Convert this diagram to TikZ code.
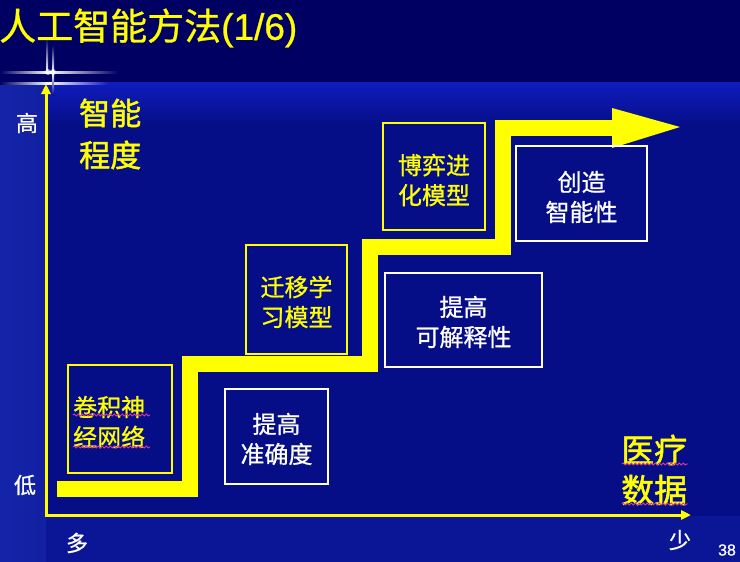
\documentclass[tikz,border=0pt]{standalone}
\usepackage{fontspec}
\setmainfont{Noto Sans CJK SC}[FakeBold=0.8]
\newfontfamily\cjkh{Noto Sans CJK SC}[FakeBold=1.6]
\newfontfamily\arialf{Liberation Sans}[FakeBold=0.8]
\usetikzlibrary{arrows.meta,decorations.pathmorphing}
\definecolor{ttlbg}{RGB}{0,0,98}
\definecolor{bodybg}{RGB}{5,14,135}
\definecolor{leftbg}{RGB}{20,36,168}
\definecolor{bandbg}{RGB}{16,28,190}
\definecolor{botbg}{RGB}{10,22,150}
\definecolor{yel}{RGB}{255,255,0}
\definecolor{squig}{RGB}{215,60,150}
\begin{document}
\begin{tikzpicture}[x=1pt,y=-1pt,
  ybox/.style={draw=yel,line width=2pt,inner sep=0pt},
  wbox/.style={draw=white,line width=2pt,inner sep=0pt},
  ytxt/.style={text=yel,font=\fontsize{24}{30}\selectfont,align=center,inner sep=0pt},
  wtxt/.style={text=white,font=\fontsize{24}{30}\selectfont,align=center,inner sep=0pt},
  ylab/.style={text=yel,align=left,inner sep=0pt,anchor=west},
  wlab/.style={text=white,font=\fontsize{22}{22}\selectfont,inner sep=0pt},
  axisline/.style={draw=yel,line width=3pt,{Triangle[length=10pt,width=9pt]}-{Triangle[length=10pt,width=9pt]}},
  stair/.style={draw=yel,line width=16pt,line join=miter},
  wavy/.style={draw=squig,line width=0.9pt,decorate,decoration={snake,amplitude=1pt,segment length=4pt}}
]
\useasboundingbox (0,0) rectangle (740,562);
% background
\fill[ttlbg] (0,0) rectangle (740,82);
\fill[bodybg] (0,82) rectangle (740,562);
\shade[top color=bandbg,bottom color=bodybg] (46,82) rectangle (740,125);
\shade[left color=leftbg,right color=leftbg!85!bodybg] (0,82) rectangle (46,562);
\fill[botbg] (46,516) rectangle (740,562);
% flare
\shade[left color=ttlbg,right color=white] (0,71) rectangle (49,73);
\shade[left color=white,right color=ttlbg] (49,71) rectangle (118,73);
\shade[left color=ttlbg,right color=white] (0,82) rectangle (49,84);
\shade[left color=white,right color=bandbg] (49,82) rectangle (108,84);
\shade[top color=ttlbg,bottom color=white] (46.5,38) rectangle (48,72);
\shade[top color=ttlbg,bottom color=white] (52.5,45) rectangle (54,72);
\shade[top color=white,bottom color=bodybg] (52.5,72) rectangle (54,95);
\fill[white,opacity=0.6] (48,72) circle (3);
\fill[white,opacity=0.6] (53,72) circle (3);
% title
\node[anchor=west,text=yel,inner sep=0pt] (title) at (-1,28)
  {\fontsize{37}{37}\selectfont 人工智能方法{\arialf(1/6)}};
% axes
\coordinate (ytop) at (46,84);
\coordinate (orig) at (46,515);
\coordinate (xend) at (691,515);
\draw[axisline,line join=miter] (ytop) -- (orig) -- (xend);
% staircase
\coordinate (s0) at (57,489);
\coordinate (s1) at (190,489);
\coordinate (s2) at (190,364);
\coordinate (s3) at (370,364);
\coordinate (s4) at (370,247);
\coordinate (s5) at (503,247);
\coordinate (s6) at (503,128);
\coordinate (s7) at (613,128);
\coordinate (h1) at (612,108);
\coordinate (h2) at (612,148);
\coordinate (tip) at (680,127);
\draw[stair] (s0) -- (s1) -- (s2) -- (s3) -- (s4) -- (s5) -- (s6) -- (s7);
\fill[yel] (h1) -- (tip) -- (h2) -- cycle;
% axis labels
\node[wlab] (hi) at (27,123) {高};
\node[wlab] (lo) at (25,485) {低};
\node[wlab] (many) at (77,543) {多};
\node[wlab] (few) at (680,540) {少};
\node[text=white,inner sep=0pt,font=\arialf\fontsize{16}{16}\selectfont] (pg) at (727,550) {38};
\node[ylab,font=\cjkh\fontsize{31}{42}\selectfont] (intel) at (79,134) {智能\\程度};
\node[ylab,font=\cjkh\fontsize{33}{40}\selectfont] (data) at (621,470) {医疗\\数据};
\draw[wavy] (622,464) -- (688,464);
\draw[wavy] (622,504) -- (688,504);
% boxes
\node[ybox,minimum width=104pt,minimum height=108pt] (cnnb) at (120,419) {};
\node[ytxt,align=left,anchor=west] (cnn) at (73,422) {卷积神\\经网络};
\draw[wavy] (73,415) -- (150,415);
\draw[wavy] (73,447) -- (150,447);
\node[wbox,minimum width=103pt,minimum height=95pt] (accb) at (276.5,436.5) {};
\node[wtxt] (acc) at (276.5,439) {提高\\准确度};
\node[ybox,minimum width=101pt,minimum height=109pt] (tlb) at (296.5,299.5) {};
\node[ytxt] (tl) at (296.5,302) {迁移学\\习模型};
\node[wbox,minimum width=157pt,minimum height=94pt] (intb) at (463.5,320) {};
\node[wtxt] (int) at (463.5,322) {提高\\可解释性};
\node[ybox,minimum width=102pt,minimum height=107pt] (gameb) at (434,176.5) {};
\node[ytxt] (game) at (434,180) {博弈进\\化模型};
\node[wbox,minimum width=131pt,minimum height=95pt] (crb) at (581.5,193.5) {};
\node[wtxt] (cr) at (581.5,197) {创造\\智能性};
\end{tikzpicture}
\end{document}
